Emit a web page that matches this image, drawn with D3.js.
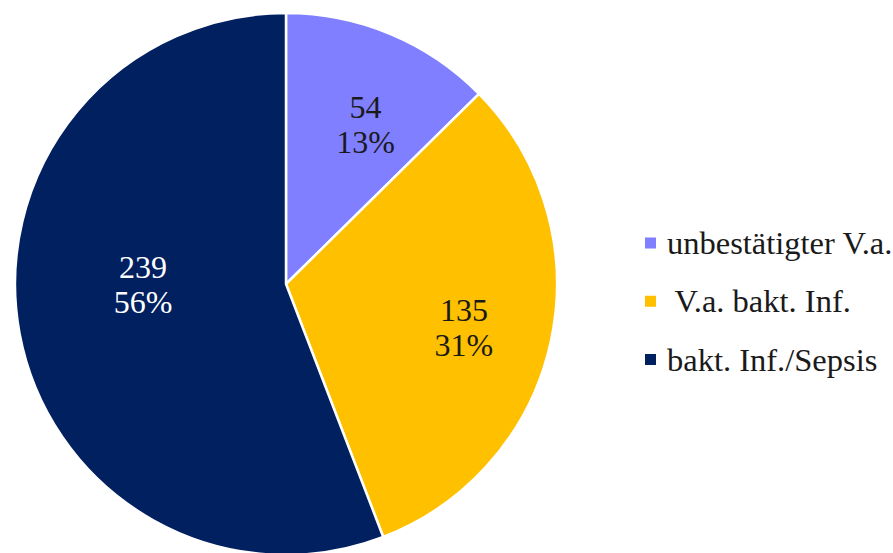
<!DOCTYPE html>
<html>
<head>
<meta charset="utf-8">
<script src="https://cdn.jsdelivr.net/npm/d3@7"></script>
<style>
  html, body { margin: 0; padding: 0; background: #fff; }
  svg { display: block; }
</style>
</head>
<body>
<svg id="chart" width="893" height="553"></svg>
<script>
const categories = ["unbestätigter V.a.", " V.a. bakt. Inf.", "bakt. Inf./Sepsis"];
const values = [54, 135, 239];
const percentLabels = ["13%", "31%", "56%"];
const colors = ["#7f7fff", "#ffc000", "#002060"];
const labelColors = ["#1a1a1a", "#1a1a1a", "#ffffff"];

const width = 893;
const height = 553;
const cx = 286, cy = 284, radius = 271;
const font = "'Liberation Serif', 'Times New Roman', serif";

const svg = d3.select("#chart");

// pie
const pie = d3.pie().sort(null).value(d => d)(values);
const arc = d3.arc().innerRadius(0).outerRadius(radius);
const labelArc = d3.arc().innerRadius(180).outerRadius(180);

const g = svg.append("g").attr("transform", `translate(${cx},${cy})`);

g.selectAll("path")
  .data(pie)
  .join("path")
  .attr("d", arc)
  .attr("fill", (d, i) => colors[i])
  .attr("stroke", "#fff")
  .attr("stroke-width", 2.5)
  .attr("stroke-linejoin", "round");

// Excel "best fit" puts the labels a bit off the centroid
const nudge = [[10, 6], [2, 5], [34, -33]];

const labels = g.selectAll("g.lbl")
  .data(pie)
  .join("g")
  .attr("class", "lbl")
  .attr("transform", (d, i) => {
    const [x, y] = labelArc.centroid(d);
    return `translate(${x + nudge[i][0]},${y + nudge[i][1]})`;
  });

labels.append("text")
  .attr("text-anchor", "middle")
  .attr("y", -6)
  .attr("font-family", font)
  .attr("font-size", 32)
  .attr("fill", (d, i) => labelColors[i])
  .text((d, i) => values[i]);

labels.append("text")
  .attr("text-anchor", "middle")
  .attr("y", 29)
  .attr("font-family", font)
  .attr("font-size", 32)
  .attr("fill", (d, i) => labelColors[i])
  .text((d, i) => percentLabels[i]);

// legend
const legendY = d3.scalePoint().domain(categories).range([243, 359.5]);

const legend = svg.append("g")
  .selectAll("g")
  .data(categories)
  .join("g")
  .attr("transform", d => `translate(645,${legendY(d)})`);

legend.append("rect")
  .attr("x", 0)
  .attr("y", -5.5)
  .attr("width", 11)
  .attr("height", 11)
  .attr("fill", (d, i) => colors[i]);

legend.append("text")
  .attr("x", 22)
  .attr("y", 11)
  .attr("font-family", font)
  .attr("font-size", 32.5)
  .attr("fill", "#1a1a1a")
  .style("white-space", "pre")
  .text(d => d);
</script>
</body>
</html>
